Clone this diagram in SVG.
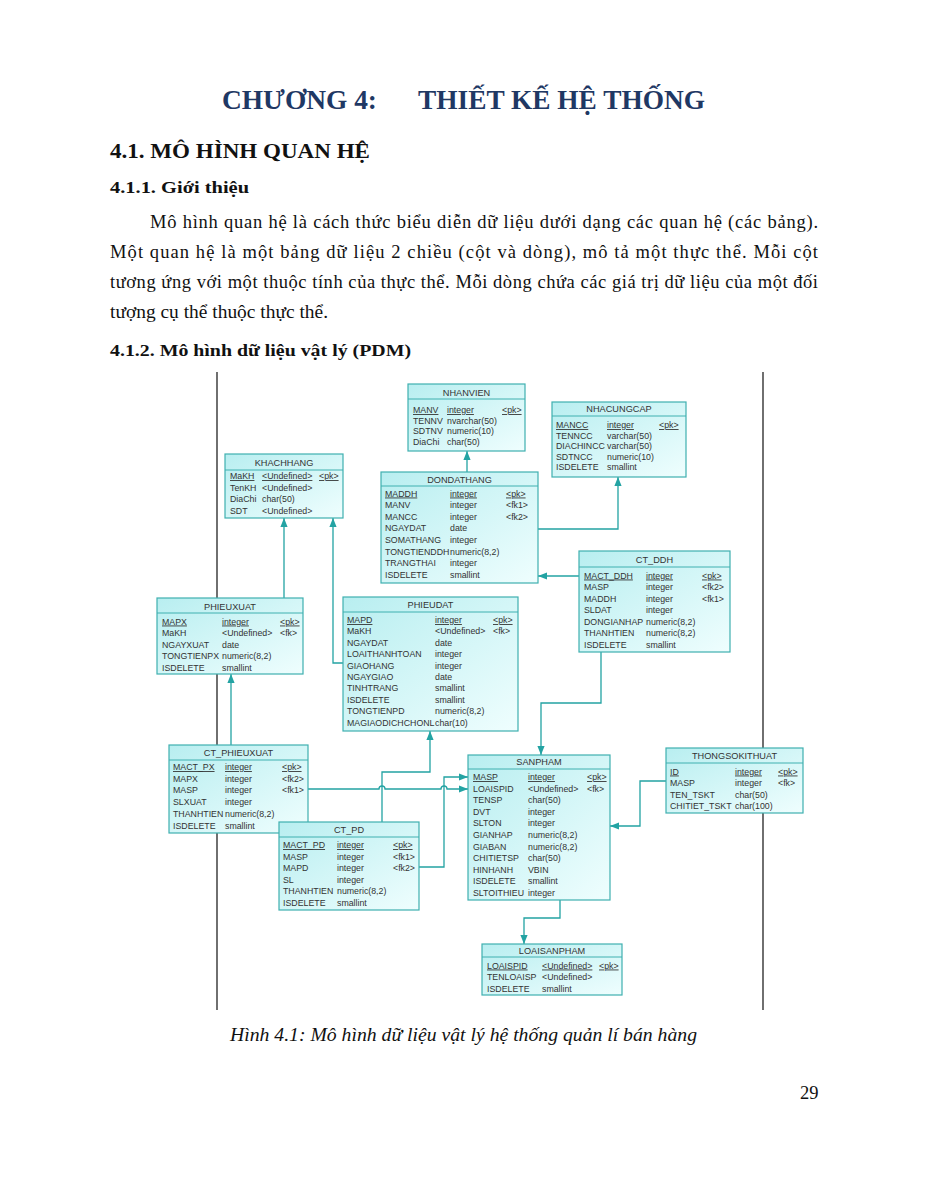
<svg xmlns="http://www.w3.org/2000/svg" width="927" height="1200" viewBox="0 0 927 1200">
<defs>
<linearGradient id="tg" x1="0" y1="0" x2="1" y2="1">
<stop offset="0" stop-color="#b8eef0"/>
<stop offset="1" stop-color="#effefe"/>
</linearGradient>
<marker id="ah" viewBox="0 0 10 8" refX="10" refY="4" markerWidth="9" markerHeight="8" markerUnits="userSpaceOnUse" orient="auto">
<path d="M0,0 L10,4 L0,8 z" fill="#23a3a3"/>
</marker>
</defs>
<style>
.doc{font-family:"Liberation Serif","Times New Roman",serif;fill:#111}
.title{font-family:"Liberation Serif",serif;font-weight:bold;font-size:27px;fill:#1f3864}
.h2{font-weight:bold;font-size:22px}
.h3{font-weight:bold;font-size:17px}
.p{font-size:18.5px}
.cap{font-style:italic;font-size:18.5px}
.frame{stroke:#222;stroke-width:1.3;fill:none}
.box{fill:url(#tg);stroke:#3fb0b0;stroke-width:1.2}
.sep{stroke:#3fb0b0;stroke-width:1}
.hd{font-family:"Liberation Sans",Arial,sans-serif;font-size:9.2px;fill:#333;text-anchor:middle}
.r{font-family:"Liberation Sans",Arial,sans-serif;font-size:8.8px;fill:#333}
.u{text-decoration:underline}
.conn path{fill:none;stroke:#23a3a3;stroke-width:1.3}
</style>
<rect width="927" height="1200" fill="#fff"/>
<g id="page-text" class="doc">
<text class="title" x="222" y="109" textLength="155" lengthAdjust="spacingAndGlyphs">CHƯƠNG 4:</text>
<text class="title" x="418" y="109" textLength="287" lengthAdjust="spacingAndGlyphs">THIẾT KẾ HỆ THỐNG</text>
<text class="h2" x="110" y="158" textLength="260" lengthAdjust="spacingAndGlyphs">4.1.  MÔ HÌNH QUAN HỆ</text>
<text class="h3" x="110" y="193" textLength="139" lengthAdjust="spacingAndGlyphs">4.1.1.  Giới thiệu</text>
<text class="p" x="150" y="228" textLength="668" lengthAdjust="spacing">Mô hình quan hệ là cách thức biểu diễn dữ liệu dưới dạng các quan hệ (các bảng).</text>
<text class="p" x="110" y="258" textLength="708" lengthAdjust="spacing">Một quan hệ là một bảng dữ liệu 2 chiều (cột và dòng), mô tả một thực thể. Mỗi cột</text>
<text class="p" x="110" y="288" textLength="708" lengthAdjust="spacing">tương ứng với một thuộc tính của thực thể. Mỗi dòng chứa các giá trị dữ liệu của một đối</text>
<text class="p" x="110" y="318" textLength="218" lengthAdjust="spacingAndGlyphs">tượng cụ thể thuộc thực thể.</text>
<text class="h3" x="110" y="356" textLength="301" lengthAdjust="spacingAndGlyphs">4.1.2.  Mô hình dữ liệu vật lý (PDM)</text>
<text class="cap" x="230" y="1041" textLength="467" lengthAdjust="spacingAndGlyphs">Hình 4.1: Mô hình dữ liệu vật lý hệ thống quản lí bán hàng</text>
<text class="p" x="800" y="1099">29</text>
</g>
<g id="frame">
<line class="frame" x1="217" y1="372" x2="217" y2="1010"/>
<line class="frame" x1="763" y1="372" x2="763" y2="1010"/>
</g>
<g id="connectors" class="conn">
<path d="M467,472 V451" marker-end="url(#ah)"/>
<path d="M538,529 H618 V477" marker-end="url(#ah)"/>
<path d="M579,576 H538" marker-end="url(#ah)"/>
<path d="M601,652 V703 H541 V755" marker-end="url(#ah)"/>
<path d="M284,598 V518" marker-end="url(#ah)"/>
<path d="M343,663 H333 V518" marker-end="url(#ah)"/>
<path d="M231,745 V674" marker-end="url(#ah)"/>
<path d="M308,789 H379 A3,3 0 0 1 385,789 H441 A3,3 0 0 1 447,789 H468" marker-end="url(#ah)"/>
<path d="M382,822 V772 H430 V731" marker-end="url(#ah)"/>
<path d="M419,867 H444 V777 H468" marker-end="url(#ah)"/>
<path d="M666,781 H640 V826 H610" marker-end="url(#ah)"/>
<path d="M560,900 V918 H524 V944" marker-end="url(#ah)"/>
</g>
<g id="NHANVIEN">
<rect class="box" x="408" y="384" width="117" height="67"/>
<text class="hd" x="466.5" y="396">NHANVIEN</text>
<line class="sep" x1="408" y1="399" x2="525" y2="399"/>
<text class="r u" x="413" y="413">MANV</text><text class="r u" x="447" y="413">integer</text><text class="r u" x="502" y="413">&lt;pk&gt;</text>
<text class="r" x="413" y="423.5">TENNV</text><text class="r" x="447" y="423.5">nvarchar(50)</text>
<text class="r" x="413" y="434">SDTNV</text><text class="r" x="447" y="434">numeric(10)</text>
<text class="r" x="413" y="444.5">DiaChi</text><text class="r" x="447" y="444.5">char(50)</text>
</g>
<g id="NHACUNGCAP">
<rect class="box" x="552" y="402" width="134" height="75"/>
<text class="hd" x="619" y="411.5">NHACUNGCAP</text>
<line class="sep" x1="552" y1="416" x2="686" y2="416"/>
<text class="r u" x="556" y="428">MANCC</text><text class="r u" x="607" y="428">integer</text><text class="r u" x="659" y="428">&lt;pk&gt;</text>
<text class="r" x="556" y="438.5">TENNCC</text><text class="r" x="607" y="438.5">varchar(50)</text>
<text class="r" x="556" y="449">DIACHINCC</text><text class="r" x="607" y="449">varchar(50)</text>
<text class="r" x="556" y="459.5">SDTNCC</text><text class="r" x="607" y="459.5">numeric(10)</text>
<text class="r" x="556" y="470">ISDELETE</text><text class="r" x="607" y="470">smallint</text>
</g>
<g id="KHACHHANG">
<rect class="box" x="225" y="454" width="118" height="64"/>
<text class="hd" x="284" y="466">KHACHHANG</text>
<line class="sep" x1="225" y1="470" x2="343" y2="470"/>
<text class="r u" x="230" y="479">MaKH</text><text class="r u" x="262" y="479">&lt;Undefined&gt;</text><text class="r u" x="319" y="479">&lt;pk&gt;</text>
<text class="r" x="230" y="490.5">TenKH</text><text class="r" x="262" y="490.5">&lt;Undefined&gt;</text>
<text class="r" x="230" y="502">DiaChi</text><text class="r" x="262" y="502">char(50)</text>
<text class="r" x="230" y="513.5">SDT</text><text class="r" x="262" y="513.5">&lt;Undefined&gt;</text>
</g>
<g id="DONDATHANG">
<rect class="box" x="381" y="472" width="157" height="111"/>
<text class="hd" x="459.5" y="483">DONDATHANG</text>
<line class="sep" x1="381" y1="486" x2="538" y2="486"/>
<text class="r u" x="385" y="496.5">MADDH</text><text class="r u" x="450" y="496.5">integer</text><text class="r u" x="506" y="496.5">&lt;pk&gt;</text>
<text class="r" x="385" y="508.1">MANV</text><text class="r" x="450" y="508.1">integer</text><text class="r" x="506" y="508.1">&lt;fk1&gt;</text>
<text class="r" x="385" y="519.7">MANCC</text><text class="r" x="450" y="519.7">integer</text><text class="r" x="506" y="519.7">&lt;fk2&gt;</text>
<text class="r" x="385" y="531.3">NGAYDAT</text><text class="r" x="450" y="531.3">date</text>
<text class="r" x="385" y="542.9">SOMATHANG</text><text class="r" x="450" y="542.9">integer</text>
<text class="r" x="385" y="554.5">TONGTIENDDH</text><text class="r" x="450" y="554.5">numeric(8,2)</text>
<text class="r" x="385" y="566.1">TRANGTHAI</text><text class="r" x="450" y="566.1">integer</text>
<text class="r" x="385" y="577.7">ISDELETE</text><text class="r" x="450" y="577.7">smallint</text>
</g>
<g id="CT_DDH">
<rect class="box" x="579" y="551" width="151" height="101"/>
<text class="hd" x="654.5" y="563">CT_DDH</text>
<line class="sep" x1="579" y1="567" x2="730" y2="567"/>
<text class="r u" x="584" y="578.5">MACT_DDH</text><text class="r u" x="646" y="578.5">integer</text><text class="r u" x="702" y="578.5">&lt;pk&gt;</text>
<text class="r" x="584" y="590">MASP</text><text class="r" x="646" y="590">integer</text><text class="r" x="702" y="590">&lt;fk2&gt;</text>
<text class="r" x="584" y="601.5">MADDH</text><text class="r" x="646" y="601.5">integer</text><text class="r" x="702" y="601.5">&lt;fk1&gt;</text>
<text class="r" x="584" y="613">SLDAT</text><text class="r" x="646" y="613">integer</text>
<text class="r" x="584" y="624.5">DONGIANHAP</text><text class="r" x="646" y="624.5">numeric(8,2)</text>
<text class="r" x="584" y="636">THANHTIEN</text><text class="r" x="646" y="636">numeric(8,2)</text>
<text class="r" x="584" y="647.5">ISDELETE</text><text class="r" x="646" y="647.5">smallint</text>
</g>
<g id="PHIEUXUAT">
<rect class="box" x="157" y="598" width="146" height="76"/>
<text class="hd" x="230" y="610">PHIEUXUAT</text>
<line class="sep" x1="157" y1="613" x2="303" y2="613"/>
<text class="r u" x="162" y="624.5">MAPX</text><text class="r u" x="222" y="624.5">integer</text><text class="r u" x="280" y="624.5">&lt;pk&gt;</text>
<text class="r" x="162" y="636">MaKH</text><text class="r" x="222" y="636">&lt;Undefined&gt;</text><text class="r" x="280" y="636">&lt;fk&gt;</text>
<text class="r" x="162" y="647.5">NGAYXUAT</text><text class="r" x="222" y="647.5">date</text>
<text class="r" x="162" y="659">TONGTIENPX</text><text class="r" x="222" y="659">numeric(8,2)</text>
<text class="r" x="162" y="670.5">ISDELETE</text><text class="r" x="222" y="670.5">smallint</text>
</g>
<g id="PHIEUDAT">
<rect class="box" x="343" y="597" width="175" height="134"/>
<text class="hd" x="430.5" y="607.5">PHIEUDAT</text>
<line class="sep" x1="343" y1="612" x2="518" y2="612"/>
<text class="r u" x="347" y="623">MAPD</text><text class="r u" x="435" y="623">integer</text><text class="r u" x="493" y="623">&lt;pk&gt;</text>
<text class="r" x="347" y="634.4">MaKH</text><text class="r" x="435" y="634.4">&lt;Undefined&gt;</text><text class="r" x="493" y="634.4">&lt;fk&gt;</text>
<text class="r" x="347" y="645.8">NGAYDAT</text><text class="r" x="435" y="645.8">date</text>
<text class="r" x="347" y="657.2">LOAITHANHTOAN</text><text class="r" x="435" y="657.2">integer</text>
<text class="r" x="347" y="668.6">GIAOHANG</text><text class="r" x="435" y="668.6">integer</text>
<text class="r" x="347" y="680">NGAYGIAO</text><text class="r" x="435" y="680">date</text>
<text class="r" x="347" y="691.4">TINHTRANG</text><text class="r" x="435" y="691.4">smallint</text>
<text class="r" x="347" y="702.8">ISDELETE</text><text class="r" x="435" y="702.8">smallint</text>
<text class="r" x="347" y="714.2">TONGTIENPD</text><text class="r" x="435" y="714.2">numeric(8,2)</text>
<text class="r" x="347" y="725.6">MAGIAODICHCHONL</text><text class="r" x="435" y="725.6">char(10)</text>
</g>
<g id="CT_PHIEUXUAT">
<rect class="box" x="169" y="745" width="139" height="88"/>
<text class="hd" x="238.5" y="756">CT_PHIEUXUAT</text>
<line class="sep" x1="169" y1="760" x2="308" y2="760"/>
<text class="r u" x="173" y="770">MACT_PX</text><text class="r u" x="225" y="770">integer</text><text class="r u" x="282" y="770">&lt;pk&gt;</text>
<text class="r" x="173" y="781.7">MAPX</text><text class="r" x="225" y="781.7">integer</text><text class="r" x="282" y="781.7">&lt;fk2&gt;</text>
<text class="r" x="173" y="793.4">MASP</text><text class="r" x="225" y="793.4">integer</text><text class="r" x="282" y="793.4">&lt;fk1&gt;</text>
<text class="r" x="173" y="805.1">SLXUAT</text><text class="r" x="225" y="805.1">integer</text>
<text class="r" x="173" y="816.8">THANHTIEN</text><text class="r" x="225" y="816.8">numeric(8,2)</text>
<text class="r" x="173" y="828.5">ISDELETE</text><text class="r" x="225" y="828.5">smallint</text>
</g>
<g id="CT_PD">
<rect class="box" x="279" y="822" width="140" height="88"/>
<text class="hd" x="349" y="832.5">CT_PD</text>
<line class="sep" x1="279" y1="837" x2="419" y2="837"/>
<text class="r u" x="283" y="848">MACT_PD</text><text class="r u" x="337" y="848">integer</text><text class="r u" x="393" y="848">&lt;pk&gt;</text>
<text class="r" x="283" y="859.5">MASP</text><text class="r" x="337" y="859.5">integer</text><text class="r" x="393" y="859.5">&lt;fk1&gt;</text>
<text class="r" x="283" y="871">MAPD</text><text class="r" x="337" y="871">integer</text><text class="r" x="393" y="871">&lt;fk2&gt;</text>
<text class="r" x="283" y="882.5">SL</text><text class="r" x="337" y="882.5">integer</text>
<text class="r" x="283" y="894">THANHTIEN</text><text class="r" x="337" y="894">numeric(8,2)</text>
<text class="r" x="283" y="905.5">ISDELETE</text><text class="r" x="337" y="905.5">smallint</text>
</g>
<g id="SANPHAM">
<rect class="box" x="468" y="755" width="142" height="145"/>
<text class="hd" x="539" y="765">SANPHAM</text>
<line class="sep" x1="468" y1="769" x2="610" y2="769"/>
<text class="r u" x="473" y="780">MASP</text><text class="r u" x="528" y="780">integer</text><text class="r u" x="587" y="780">&lt;pk&gt;</text>
<text class="r" x="473" y="791.6">LOAISPID</text><text class="r" x="528" y="791.6">&lt;Undefined&gt;</text><text class="r" x="587" y="791.6">&lt;fk&gt;</text>
<text class="r" x="473" y="803.2">TENSP</text><text class="r" x="528" y="803.2">char(50)</text>
<text class="r" x="473" y="814.8">DVT</text><text class="r" x="528" y="814.8">integer</text>
<text class="r" x="473" y="826.4">SLTON</text><text class="r" x="528" y="826.4">integer</text>
<text class="r" x="473" y="838">GIANHAP</text><text class="r" x="528" y="838">numeric(8,2)</text>
<text class="r" x="473" y="849.6">GIABAN</text><text class="r" x="528" y="849.6">numeric(8,2)</text>
<text class="r" x="473" y="861.2">CHITIETSP</text><text class="r" x="528" y="861.2">char(50)</text>
<text class="r" x="473" y="872.8">HINHANH</text><text class="r" x="528" y="872.8">VBIN</text>
<text class="r" x="473" y="884.4">ISDELETE</text><text class="r" x="528" y="884.4">smallint</text>
<text class="r" x="473" y="896">SLTOITHIEU</text><text class="r" x="528" y="896">integer</text>
</g>
<g id="THONGSOKITHUAT">
<rect class="box" x="666" y="748" width="137" height="65"/>
<text class="hd" x="734.5" y="759">THONGSOKITHUAT</text>
<line class="sep" x1="666" y1="763" x2="803" y2="763"/>
<text class="r u" x="670" y="774.5">ID</text><text class="r u" x="735" y="774.5">integer</text><text class="r u" x="778" y="774.5">&lt;pk&gt;</text>
<text class="r" x="670" y="786.1">MASP</text><text class="r" x="735" y="786.1">integer</text><text class="r" x="778" y="786.1">&lt;fk&gt;</text>
<text class="r" x="670" y="797.7">TEN_TSKT</text><text class="r" x="735" y="797.7">char(50)</text>
<text class="r" x="670" y="809.3">CHITIET_TSKT</text><text class="r" x="735" y="809.3">char(100)</text>
</g>
<g id="LOAISANPHAM">
<rect class="box" x="482" y="944" width="140" height="51"/>
<text class="hd" x="552" y="954">LOAISANPHAM</text>
<line class="sep" x1="482" y1="957" x2="622" y2="957"/>
<text class="r u" x="487" y="968.5">LOAISPID</text><text class="r u" x="542" y="968.5">&lt;Undefined&gt;</text><text class="r u" x="599" y="968.5">&lt;pk&gt;</text>
<text class="r" x="487" y="980">TENLOAISP</text><text class="r" x="542" y="980">&lt;Undefined&gt;</text>
<text class="r" x="487" y="991.5">ISDELETE</text><text class="r" x="542" y="991.5">smallint</text>
</g>
</svg>
